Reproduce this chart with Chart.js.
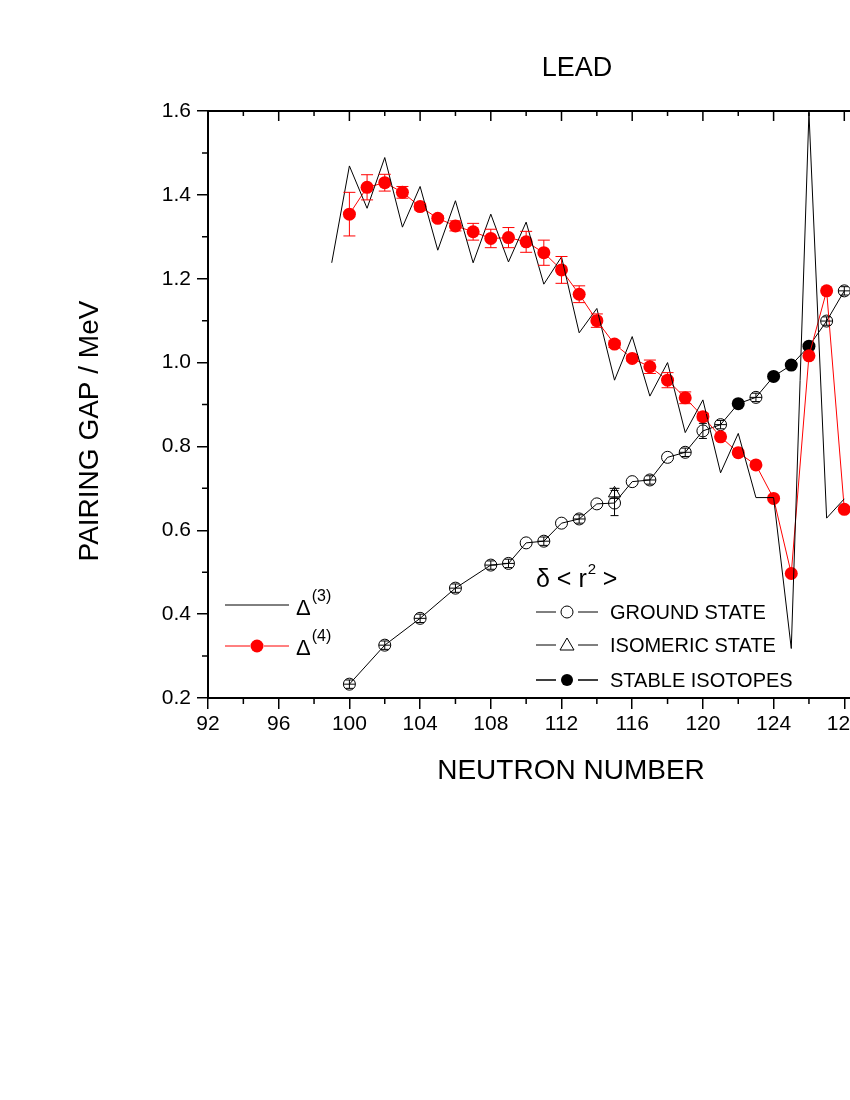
<!DOCTYPE html>
<html lang="en">
<head>
  <meta charset="UTF-8" />
  <title>Lead pairing gap</title>
  <script src="https://cdn.jsdelivr.net/npm/chart.js"></script>
  <style>
    html, body { margin: 0; padding: 0; background: #fff; overflow: hidden; }
    #wrap { position: relative; width: 850px; height: 1100px; overflow: hidden; }
    #gap { position: absolute; left: 0; top: 0; }
  </style>
</head>
<body>
<div id="wrap"><canvas id="gap" width="1000" height="1100"></canvas></div>
<script>
// Delta(3) odd-even staggering
const d3N = [99,100,101,102,103,104,105,106,107,108,109,110,111,112,113,114,115,116,117,118,119,120,121,122,123,124,125,126,127,128];
const d3V = [1.238,1.469,1.368,1.489,1.323,1.420,1.268,1.386,1.238,1.354,1.240,1.335,1.187,1.252,1.071,1.129,0.958,1.062,0.920,1.000,0.833,0.911,0.737,0.831,0.678,0.678,0.318,1.596,0.629,0.675];

// Delta(4) with errors
const d4N = [100,101,102,103,104,105,106,107,108,109,110,111,112,113,114,115,116,117,118,119,120,121,122,123,124,125,126,127,128];
const d4V = [1.354,1.418,1.429,1.406,1.372,1.344,1.326,1.312,1.296,1.298,1.288,1.262,1.221,1.163,1.100,1.044,1.010,0.990,0.958,0.916,0.871,0.823,0.785,0.756,0.676,0.497,1.016,1.171,0.650];
const d4Err = [0.052,0.030,0.020,0.014,0.008,0.006,0.012,0.020,0.022,0.024,0.025,0.030,0.032,0.020,0.016,0.008,0.006,0.016,0.018,0.014,0.008,0,0,0,0,0,0,0,0];

// delta <r^2> ground state (scaled)
const gsN = [100,102,104,106,108,109,110,111,112,113,114,115,116,117,118,119,120,121,123,127,128];
const gsV = [0.233,0.326,0.390,0.462,0.517,0.521,0.570,0.574,0.617,0.627,0.663,0.665,0.716,0.720,0.774,0.786,0.837,0.852,0.917,1.099,1.171];
const gsErr = [0.010,0.010,0.010,0.010,0.010,0.010,0,0.010,0,0.010,0,0.030,0,0.010,0,0.010,0.018,0.010,0.010,0.010,0.010];

// stable isotopes
const stN = [122,124,125,126];
const stV = [0.902,0.967,0.994,1.039];

// isomeric state
const isoN = [115];
const isoV = [0.688];
const isoErr = [0.012];

const FONT = '"Liberation Sans", Arial, Helvetica, sans-serif';
const pts = (xs, ys) => xs.map((x, i) => ({ x, y: ys[i] }));

const rmsLine = pts(gsN, gsV).concat(pts(stN, stV)).sort((a, b) => a.x - b.x);

const errBars = [
  { ds: 1, err: d4Err, color: 'red', cap: 6, mid: false },
  { ds: 3, err: gsErr, color: '#000', cap: 4, mid: true },
  { ds: 5, err: isoErr, color: '#000', cap: 5, mid: false }
];

const extras = {
  id: 'extras',
  afterDatasetsDraw(chart) {
    const ctx = chart.ctx, y = chart.scales.y;
    ctx.save();
    errBars.forEach(eb => {
      const meta = chart.getDatasetMeta(eb.ds);
      const data = chart.data.datasets[eb.ds].data;
      ctx.strokeStyle = eb.color;
      ctx.lineWidth = 1;
      meta.data.forEach((p, i) => {
        const e = eb.err[i];
        if (!e) return;
        const yt = y.getPixelForValue(data[i].y + e);
        const yb = y.getPixelForValue(data[i].y - e);
        ctx.beginPath();
        ctx.moveTo(p.x, yt); ctx.lineTo(p.x, yb);
        ctx.moveTo(p.x - eb.cap, yt); ctx.lineTo(p.x + eb.cap, yt);
        ctx.moveTo(p.x - eb.cap, yb); ctx.lineTo(p.x + eb.cap, yb);
        if (eb.mid && e < 0.015) { ctx.moveTo(p.x - 6, p.y); ctx.lineTo(p.x + 6, p.y); }
        ctx.stroke();
      });
    });
    ctx.restore();
  },
  afterDraw(chart) {
    const ctx = chart.ctx, a = chart.chartArea, x = chart.scales.x, y = chart.scales.y;
    ctx.save();
    ctx.strokeStyle = '#000';
    // top and right frame
    ctx.lineWidth = 2;
    ctx.beginPath();
    ctx.moveTo(a.left, a.top); ctx.lineTo(a.right, a.top); ctx.lineTo(a.right, a.bottom);
    ctx.stroke();
    ctx.lineWidth = 1.5;
    ctx.beginPath();
    for (let n = 92; n <= 132; n += 2) {
      const px = x.getPixelForValue(n);
      const major = (n - 92) % 4 === 0;
      ctx.moveTo(px, a.top); ctx.lineTo(px, a.top + (major ? 10 : 5));
      if (!major) { ctx.moveTo(px, a.bottom); ctx.lineTo(px, a.bottom + 6); }
    }
    for (let v = 0.3; v < 1.6; v += 0.2) {
      const py = y.getPixelForValue(v);
      ctx.moveTo(a.left, py); ctx.lineTo(a.left - 6, py);
    }
    ctx.stroke();

    ctx.fillStyle = '#000';
    // titles
    ctx.textAlign = 'center';
    ctx.textBaseline = 'alphabetic';
    ctx.font = '27px ' + FONT;
    ctx.fillText('LEAD', 577, 76);
    ctx.font = '28px ' + FONT;
    ctx.textBaseline = 'middle';
    ctx.fillText('NEUTRON NUMBER', 571, 771);
    ctx.save();
    ctx.translate(90, 431);
    ctx.rotate(-Math.PI / 2);
    ctx.fillText('PAIRING GAP / MeV', 0, 0);
    ctx.restore();

    // left legend
    ctx.lineWidth = 1;
    ctx.strokeStyle = '#000';
    ctx.beginPath(); ctx.moveTo(225, 605); ctx.lineTo(289, 605); ctx.stroke();
    ctx.strokeStyle = 'red';
    ctx.beginPath(); ctx.moveTo(225, 646); ctx.lineTo(250, 646); ctx.moveTo(264, 646); ctx.lineTo(289, 646); ctx.stroke();
    ctx.fillStyle = 'red';
    ctx.beginPath(); ctx.arc(257, 646, 6.5, 0, Math.PI * 2); ctx.fill();
    ctx.fillStyle = '#000';
    ctx.textAlign = 'left';
    ctx.textBaseline = 'alphabetic';
    [['(3)', 615], ['(4)', 655]].forEach(([s, by]) => {
      ctx.font = '22px ' + FONT;
      ctx.fillText('\u0394', 296, by);
      const w = ctx.measureText('\u0394').width;
      ctx.font = '16px ' + FONT;
      ctx.fillText(s, 296 + w + 1, by - 14);
    });

    // right legend
    ctx.font = '25px ' + FONT;
    ctx.fillText('\u03b4 < r', 536, 587);
    let w = ctx.measureText('\u03b4 < r').width;
    ctx.font = '15px ' + FONT;
    ctx.fillText('2', 536 + w + 1, 574);
    ctx.font = '25px ' + FONT;
    ctx.fillText(' >', 536 + w + 9, 587);

    const rows = [
      { label: 'GROUND STATE', cy: 612, mark: 'circle' },
      { label: 'ISOMERIC STATE', cy: 645, mark: 'triangle' },
      { label: 'STABLE ISOTOPES', cy: 680, mark: 'dot' }
    ];
    ctx.font = '20px ' + FONT;
    ctx.textBaseline = 'middle';
    rows.forEach(r => {
      ctx.strokeStyle = '#000';
      ctx.lineWidth = r.mark === 'dot' ? 1.5 : 1;
      ctx.beginPath();
      ctx.moveTo(536, r.cy); ctx.lineTo(556, r.cy);
      ctx.moveTo(578, r.cy); ctx.lineTo(598, r.cy);
      ctx.stroke();
      ctx.lineWidth = 1;
      ctx.beginPath();
      if (r.mark === 'triangle') {
        ctx.moveTo(567, r.cy - 7); ctx.lineTo(574, r.cy + 5); ctx.lineTo(560, r.cy + 5); ctx.closePath();
        ctx.stroke();
      } else {
        ctx.arc(567, r.cy, 6, 0, Math.PI * 2);
        if (r.mark === 'dot') { ctx.fillStyle = '#000'; ctx.fill(); } else ctx.stroke();
      }
      ctx.fillStyle = '#000';
      ctx.fillText(r.label, 610, r.cy + 1);
    });
    ctx.restore();
  }
};

new Chart(document.getElementById('gap'), {
  type: 'line',
  data: {
    datasets: [
      { data: pts(d3N, d3V), borderColor: '#000', borderWidth: 1, pointRadius: 0, tension: 0 },
      { data: pts(d4N, d4V), borderColor: 'red', borderWidth: 1, pointRadius: 6.5, pointBackgroundColor: 'red', pointBorderWidth: 0 },
      { data: rmsLine, borderColor: '#000', borderWidth: 1, pointRadius: 0 },
      { data: pts(gsN, gsV), showLine: false, pointRadius: 6, pointBackgroundColor: '#fff', pointBorderColor: '#000', pointBorderWidth: 1 },
      { data: pts(stN, stV), showLine: false, pointRadius: 6.5, pointBackgroundColor: '#000', pointBorderColor: '#000', pointBorderWidth: 0 },
      { data: pts(isoN, isoV), showLine: false, pointStyle: 'triangle', pointRadius: 7, pointBackgroundColor: 'rgba(0,0,0,0)', pointBorderColor: '#000', pointBorderWidth: 1 }
    ]
  },
  options: {
    responsive: false,
    animation: false,
    events: [],
    layout: { padding: { left: 0, top: 111, right: 85, bottom: 342 } },
    plugins: { legend: { display: false }, tooltip: { enabled: false } },
    scales: {
      x: {
        type: 'linear', min: 92, max: 132,
        afterFit: s => { s.height = 60; },
        ticks: { stepSize: 4, color: '#000', padding: 3, font: { family: FONT, size: 21 } },
        grid: { drawOnChartArea: false, drawTicks: true, tickLength: 11, color: '#000', lineWidth: 1.5 },
        border: { color: '#000', width: 2 }
      },
      y: {
        min: 0.2, max: 1.6,
        afterFit: s => { s.width = 208; },
        ticks: { stepSize: 0.2, color: '#000', padding: 6, font: { family: FONT, size: 21 }, callback: v => v.toFixed(1) },
        grid: { drawOnChartArea: false, drawTicks: true, tickLength: 11, color: '#000', lineWidth: 1.5 },
        border: { color: '#000', width: 2 }
      }
    }
  },
  plugins: [extras]
});
</script>
</body>
</html>
